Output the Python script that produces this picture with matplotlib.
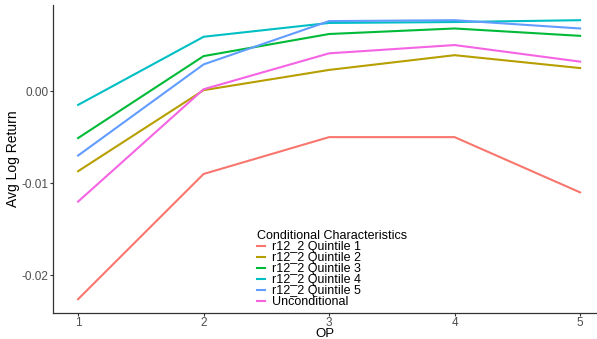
import matplotlib
matplotlib.use("Agg")
import matplotlib.pyplot as plt
from matplotlib.ticker import FormatStrFormatter

plt.rcParams['font.family'] = ['Liberation Sans', 'DejaVu Sans']
plt.rcParams['axes.unicode_minus'] = False

# datos
op = [1, 2, 3, 4, 5]
q1 = [-0.0226, -0.0090, -0.0050, -0.0050, -0.0110]
q2 = [-0.0087, 0.0001, 0.0023, 0.0039, 0.0025]
q3 = [-0.0051, 0.0038, 0.0062, 0.0068, 0.0060]
q4 = [-0.0015, 0.0059, 0.0074, 0.0075, 0.0077]
q5 = [-0.0070, 0.0029, 0.0076, 0.0077, 0.0068]
uncond = [-0.0120, 0.0002, 0.0041, 0.0050, 0.0032]

series = [q1, q2, q3, q4, q5, uncond]
labels = ['r12_2 Quintile 1', 'r12_2 Quintile 2', 'r12_2 Quintile 3',
          'r12_2 Quintile 4', 'r12_2 Quintile 5', 'Unconditional']
colores = ['#F8766D', '#B79F00', '#00BA38', '#00BFC4', '#619CFF', '#F564E3']

fig = plt.figure(figsize=(5.97, 3.39), dpi=100)
ax = fig.add_axes([53 / 597, 26 / 339, 544 / 597, 308 / 339])

for y, lab, c in zip(series, labels, colores):
    ax.plot(op, y, color=c, lw=1.5, label=lab)

ax.set_xlim(0.8, 0.8 + 544 / 125.5)
ax.set_ylim(-0.0241, 0.00935)
ax.set_xticks(op)
ax.set_yticks([-0.02, -0.01, 0.0])
ax.yaxis.set_major_formatter(FormatStrFormatter('%.2f'))

for s in ['top', 'right']:
    ax.spines[s].set_visible(False)
for s in ['left', 'bottom']:
    ax.spines[s].set_color('#333333')
    ax.spines[s].set_linewidth(0.9)
ax.tick_params(colors='#333333', labelcolor='#4D4D4D', labelsize=8.5,
               length=2.5, width=0.8, pad=1)
ax.tick_params(axis='x', pad=0.5)

ax.set_xlabel('OP', fontsize=9.5)
ax.set_ylabel('Avg Log Return', fontsize=10)
# posiciones de los titulos de los ejes
ax.xaxis.set_label_coords(0.5, -15 / 308)
ax.yaxis.set_label_coords(-33 / 544, 0.5)

leg = ax.legend(loc='upper left', bbox_to_anchor=(251 / 597, 1 - 224 / 339),
                bbox_transform=fig.transFigure, frameon=False, fontsize=9,
                title='Conditional Characteristics', title_fontsize=9,
                handlelength=0.65, handletextpad=0.55, labelspacing=-0.08,
                borderpad=0, alignment='left')

fig.savefig('out.png', dpi=100)
